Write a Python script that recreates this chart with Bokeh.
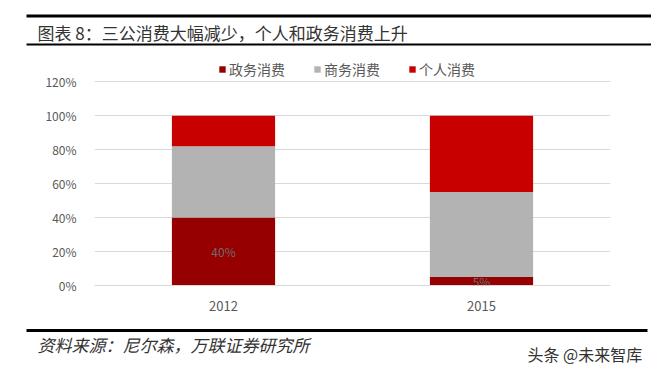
from bokeh.plotting import figure
from bokeh.models import (ColumnDataSource, FactorRange, Range1d, NumeralTickFormatter,
                          Legend, LegendItem, LabelSet, FixedTicker)
from bokeh.layouts import column
from bokeh.core.properties import value
from bokeh.embed import file_html
from bokeh.resources import INLINE

# ---- data ----
years = ["2012", "2015"]
series = ["政务消费", "商务消费", "个人消费"]
gov = [0.40, 0.05]
biz = [0.42, 0.50]
personal = [0.18, 0.45]
gov_labels = ["40%", "5%"]
y_ticks = [0, 0.2, 0.4, 0.6, 0.8, 1.0, 1.2]

title_text = "图表 8：三公消费大幅减少，个人和政务消费上升"
source_text = "资料来源：尼尔森，万联证券研究所"
mark_text = "头条 @未来智库"

colors = ["#960000", "#B3B3B3", "#C80000"]
CJK = "Noto Sans CJK SC"
W = 651


def blank(h):
    f = figure(width=W, height=h, output_backend="svg", toolbar_location=None,
               x_range=Range1d(0, W), y_range=Range1d(h, 0), min_border=0,
               frame_align=False)
    f.axis.visible = False
    f.grid.visible = False
    f.outline_line_color = None
    return f


# ---- header ----
top = blank(50)
top.segment(x0=[26], y0=[15.5], x1=[W], y1=[15.5], line_color="#000000", line_width=3)
top.segment(x0=[26], y0=[44], x1=[W], y1=[44], line_color="#000000", line_width=2)
top.text(x=[37], y=[32], text=[title_text], text_font=value(CJK), text_font_size="17px",
         text_color="#333333", text_baseline="middle", text_align="left")

# ---- main chart ----
src = ColumnDataSource(dict(year=years, **{series[0]: gov, series[1]: biz, series[2]: personal},
                            gov_mid=[g / 2 for g in gov], gov_lab=gov_labels))

# frame extends above 120% so that the legend sits inside it
p = figure(width=W, height=268, output_backend="svg", toolbar_location=None,
           x_range=FactorRange(*years, range_padding=0), y_range=Range1d(0, 1.36),
           min_border_left=94, min_border_right=W - 610, min_border_top=4,
           min_border_bottom=33, frame_align=False)
p.outline_line_color = None
rs = p.vbar_stack(series, x="year", width=0.4, color=colors, line_color=None, source=src)

p.xgrid.visible = False
p.ygrid.grid_line_color = "#D9D9D9"
p.ygrid.grid_line_width = 1
p.yaxis.ticker = FixedTicker(ticks=y_ticks)
p.yaxis.formatter = NumeralTickFormatter(format="0%")
p.yaxis.axis_line_color = None
p.yaxis.major_tick_line_color = None
p.yaxis.minor_tick_line_color = None
p.yaxis.major_label_standoff = 12
p.yaxis.major_label_text_font = CJK
p.yaxis.major_label_text_font_size = "12px"
p.yaxis.major_label_text_color = "#595959"
p.xaxis.axis_line_color = "#D9D9D9"
p.xaxis.major_tick_line_color = None
p.xaxis.minor_tick_line_color = None
p.xaxis.major_label_standoff = 9
p.xaxis.major_label_text_font = CJK
p.xaxis.major_label_text_font_size = "13px"
p.xaxis.major_label_text_color = "#595959"

labels = LabelSet(x="year", y="gov_mid", text="gov_lab", source=src, text_align="center",
                  text_baseline="middle", text_font=value(CJK), text_font_size="12px",
                  text_color="#6E6E6E")
p.add_layout(labels)

legend = Legend(items=[LegendItem(label=s, renderers=[r]) for s, r in zip(series, rs)],
                orientation="horizontal", location=(124, 206), padding=0, margin=0,
                border_line_color=None, background_fill_alpha=0,
                glyph_width=8, glyph_height=8, label_standoff=3, spacing=28,
                label_text_font=CJK, label_text_font_size="14px", label_text_color="#595959",
                label_height=14)
p.add_layout(legend)

# ---- footer ----
foot = blank(49)
foot.segment(x0=[26], y0=[12], x1=[W - 4], y1=[12], line_color="#000000", line_width=3)
foot.text(x=[37], y=[26], text=[source_text], text_font=value(CJK), text_font_size="17px",
          text_font_style="italic", text_color="#333333", text_baseline="middle")
foot.text(x=[527], y=[35], text=[mark_text], text_font=value(CJK), text_font_size="16px",
          text_color="#333333", text_baseline="middle")

layout = column(top, p, foot, spacing=0)
open("out.html", "w").write(file_html(layout, INLINE))
